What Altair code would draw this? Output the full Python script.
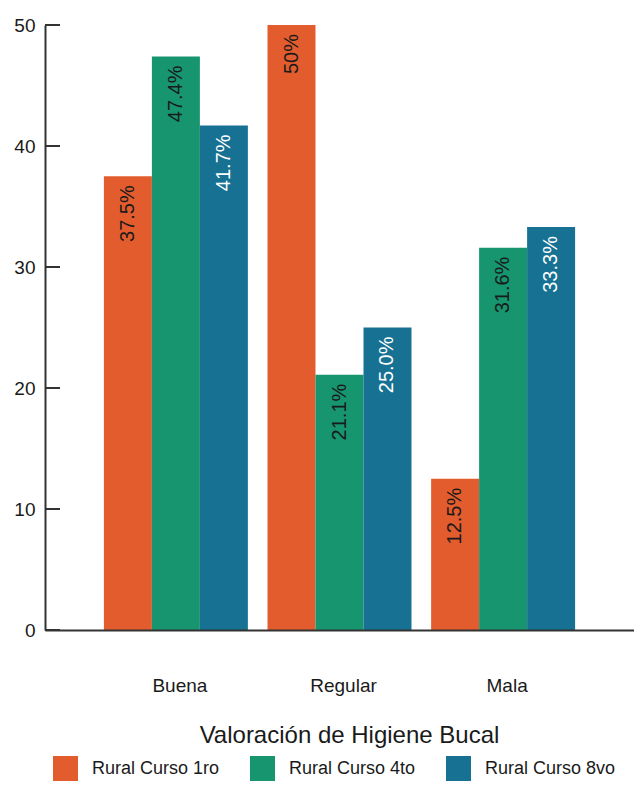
import altair as alt
import pandas as pd

categories = ["Buena", "Regular", "Mala"]
series = ["Rural Curso 1ro", "Rural Curso 4to", "Rural Curso 8vo"]
v_1ro = [37.5, 50.0, 12.5]
v_4to = [47.4, 21.1, 31.6]
v_8vo = [41.7, 25.0, 33.3]
lab_1ro = ["37.5%", "50%", "12.5%"]
lab_4to = ["47.4%", "21.1%", "31.6%"]
lab_8vo = ["41.7%", "25.0%", "33.3%"]
y_ticks = [0, 10, 20, 30, 40, 50]
colors = ["#E35C2E", "#16956F", "#167193"]

rows = []
for s, vals, labs in zip(series, [v_1ro, v_4to, v_8vo], [lab_1ro, lab_4to, lab_8vo]):
    for c, v, l in zip(categories, vals, labs):
        rows.append({"cat": c, "serie": s, "valor": v, "etiqueta": l})
df = pd.DataFrame(rows)
ticks_df = pd.DataFrame({"t": y_ticks})

FONT = "Liberation Sans"
TXT = "#1a1a1a"

xenc = alt.X("cat:N", sort=categories,
             scale=alt.Scale(paddingInner=0.12, paddingOuter=0.36),
             axis=alt.Axis(title="Valoración de Higiene Bucal", labelAngle=0, ticks=False,
                           labelFontSize=19, labelPadding=46, labelOffset=4,
                           titleFontSize=24, titleFontWeight="normal", titlePadding=28,
                           titleX=304, domainColor="#333333", domainWidth=2,
                           labelColor=TXT, titleColor=TXT, labelFont=FONT, titleFont=FONT,
                           zindex=1))
yscale = alt.Scale(domain=[0, 50], nice=False)
yenc = alt.Y("valor:Q", scale=yscale,
             axis=alt.Axis(title=None, values=y_ticks, grid=False, ticks=False,
                           labelFontSize=19, labelPadding=10, domainColor="#333333",
                           domainWidth=2, labelColor=TXT, labelFont=FONT, zindex=1))

bars = alt.Chart(df).mark_bar().encode(
    x=xenc,
    xOffset=alt.XOffset("serie:N", sort=series),
    y=yenc,
    color=alt.Color("serie:N", sort=series,
                    scale=alt.Scale(domain=series, range=colors),
                    legend=alt.Legend(title=None, orient="none", direction="horizontal",
                                      legendX=8, legendY=731, symbolType="square",
                                      symbolSize=625, symbolStrokeWidth=0,
                                      labelFontSize=18, labelFont=FONT, labelColor=TXT,
                                      labelOffset=14, columnPadding=30)),
)

text = alt.Chart(df).mark_text(angle=270, align="right", baseline="middle", dx=-9,
                               fontSize=20, font=FONT).encode(
    x=alt.X("cat:N", sort=categories),
    xOffset=alt.XOffset("serie:N", sort=series),
    y=alt.Y("valor:Q", scale=yscale),
    text="etiqueta:N",
    color=alt.condition("datum.serie == 'Rural Curso 8vo'", alt.value("white"), alt.value(TXT)),
)

tick_rules = alt.Chart(ticks_df).mark_rule(color="#333333", strokeWidth=2).encode(
    y=alt.Y("t:Q", scale=yscale),
    x=alt.value(0),
    x2=alt.value(15),
)

chart = alt.layer(bars, text, tick_rules).properties(
    width=589,
    height=605,
    autosize=alt.AutoSizeParams(type="none"),
    padding={"left": 37, "top": 17, "right": 0, "bottom": 152},
).configure_view(stroke=None)

chart.save("out.html", embed_options={"renderer": "svg", "actions": False})
